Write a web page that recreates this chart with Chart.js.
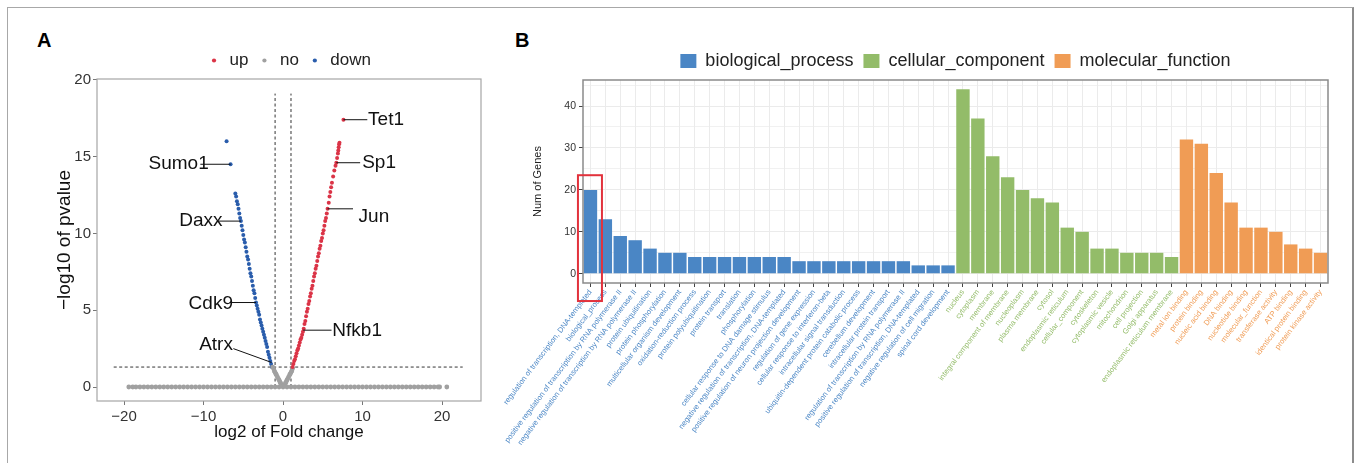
<!DOCTYPE html>
<html>
<head>
<meta charset="utf-8">
<script src="https://cdn.jsdelivr.net/npm/chart.js@4.4.1/dist/chart.umd.min.js"></script>
<style>
  html, body { margin: 0; padding: 0; background: #fff; overflow: hidden; }
  body { width: 1359px; height: 463px; position: relative; font-family: 'Liberation Sans', Arial, sans-serif; }
  #frame { position: absolute; left: 7px; top: 7px; width: 1347px; height: 470px; box-sizing: border-box;
           border: 1px solid #a8a8a8; border-right: 2px solid #8c8c8c; }
  .tag { position: absolute; font-weight: bold; font-size: 20px; color: #000; }
  #volcano { position: absolute; left: 0; top: 0; }
  #goBars { position: absolute; left: 490px; top: 0; }
</style>
</head>
<body>
<div id="frame"></div>
<div class="tag" style="left:37px; top:29px;">A</div>
<div class="tag" style="left:515px; top:29px;">B</div>
<canvas id="volcano" width="495" height="463"></canvas>
<canvas id="goBars" width="869" height="463"></canvas>

<script>
/* ---------- Panel A: volcano plot data ---------- */

const upPoints = [
    [1.2, 1.3], [1.3, 1.5], [1.4, 1.7], [1.5, 1.8], [1.6, 2.0], [1.7, 2.2], [1.8, 2.4], [1.9, 2.5],
    [2.0, 2.7], [2.1, 2.9], [2.2, 3.1], [2.3, 3.2], [2.4, 3.4], [2.5, 3.6], [2.6, 3.8], [2.7, 4.1],
    [2.8, 4.3], [2.9, 4.6], [3.0, 4.9], [3.1, 5.1], [3.2, 5.4], [3.3, 5.6], [3.4, 5.9], [3.5, 6.1],
    [3.6, 6.4], [3.7, 6.6], [3.8, 6.9], [3.9, 7.2], [4.0, 7.4], [4.1, 7.7], [4.2, 7.9], [4.3, 8.2],
    [4.4, 8.5], [4.5, 8.7], [4.6, 9.0], [4.7, 9.2], [4.8, 9.5], [4.9, 9.7], [5.0, 10.0], [5.1, 10.2],
    [5.2, 10.5], [5.3, 10.8], [5.4, 11.0], [5.5, 11.3], [5.6, 11.6], [5.75, 12.0], [5.85, 12.4],
    [5.95, 12.7], [6.05, 13.0], [6.15, 13.3], [6.3, 13.7], [6.45, 14.1], [6.6, 14.4], [6.7, 14.6],
    [6.8, 14.9], [6.9, 15.2], [6.95, 15.4], [7.0, 15.6], [7.05, 15.8], [7.1, 15.9], [7.6, 17.4]
];

const downPoints = [
    [-1.4, 1.3], [-1.5, 1.5], [-1.6, 1.7], [-1.7, 1.9], [-1.8, 2.1], [-1.9, 2.3], [-2.0, 2.6],
    [-2.1, 2.8], [-2.2, 3.0], [-2.3, 3.2], [-2.4, 3.4], [-2.5, 3.6], [-2.6, 3.8], [-2.7, 4.0],
    [-2.8, 4.2], [-2.9, 4.4], [-3.0, 4.7], [-3.1, 4.9], [-3.2, 5.1], [-3.3, 5.3], [-3.4, 5.5],
    [-3.5, 5.8], [-3.6, 6.1], [-3.7, 6.3], [-3.8, 6.6], [-3.9, 6.9], [-4.0, 7.2], [-4.1, 7.4],
    [-4.2, 7.7], [-4.3, 8.0], [-4.4, 8.3], [-4.5, 8.5], [-4.6, 8.8], [-4.7, 9.1], [-4.8, 9.4],
    [-4.9, 9.6], [-5.0, 9.9], [-5.1, 10.2], [-5.2, 10.5], [-5.3, 10.8], [-5.4, 11.0], [-5.5, 11.3],
    [-5.6, 11.6], [-5.7, 11.9], [-5.8, 12.1], [-5.9, 12.4], [-6.0, 12.6], [-6.6, 14.5], [-7.1, 16.0]
];

// not significant genes: the small V round zero and the long band along y = 0
const noPoints = [
    [-1.3, 1.3], [-1.2, 1.2], [-1.1, 1.05], [-1.0, 0.95], [-0.9, 0.85], [-0.8, 0.75], [-0.7, 0.65],
    [-0.6, 0.55], [-0.5, 0.45], [-0.4, 0.35], [-0.3, 0.25], [-0.2, 0.15], [-0.1, 0.07], [0, 0],
    [0.1, 0.07], [0.2, 0.15], [0.3, 0.25], [0.4, 0.35], [0.5, 0.45], [0.6, 0.55], [0.7, 0.65],
    [0.8, 0.75], [0.9, 0.85], [1.0, 0.95], [1.1, 1.05], [1.2, 1.2],
    [-19.4, 0], [-18.9, 0], [-18.5, 0], [-18, 0], [-17.5, 0], [-17, 0], [-16.5, 0], [-16, 0],
    [-15.5, 0], [-15, 0], [-14.5, 0], [-14, 0], [-13.5, 0], [-13, 0], [-12.5, 0], [-12, 0],
    [-11.5, 0], [-11, 0], [-10.5, 0], [-10, 0], [-9.5, 0], [-9, 0], [-8.5, 0], [-8, 0],
    [-7.5, 0], [-7, 0], [-6.5, 0], [-6, 0], [-5.5, 0], [-5, 0], [-4.5, 0], [-4, 0],
    [-3.5, 0], [-3, 0], [-2.5, 0], [-2, 0], [-1.5, 0], [-1, 0], [-0.5, 0], [0.5, 0],
    [1, 0], [1.5, 0], [2, 0], [2.5, 0], [3, 0], [3.5, 0], [4, 0], [4.5, 0],
    [5, 0], [5.5, 0], [6, 0], [6.5, 0], [7, 0], [7.5, 0], [8, 0], [8.5, 0],
    [9, 0], [9.5, 0], [10, 0], [10.5, 0], [11, 0], [11.5, 0], [12, 0], [12.5, 0],
    [13, 0], [13.5, 0], [14, 0], [14.5, 0], [15, 0], [15.5, 0], [16, 0], [16.5, 0],
    [17, 0], [17.5, 0], [18, 0], [18.5, 0], [19, 0], [19.5, 0], [19.7, 0], [20.6, 0]
];

const volcanoXTicks = [-20, -10, 0, 10, 20];
const volcanoYTicks = [0, 5, 10, 15, 20];

// cut-offs: |log2FC| = 1 and p = 0.05
const fcCut = 1;
const pCut = 1.3;

// gene name annotations (data units): point, end of leader line, text anchor
const geneLabels = [
    { gene: 'Tet1',  at: [7.6, 17.4],   lineTo: [10.6, 17.4],  text: [10.7, 17.4],  align: 'left' },
    { gene: 'Sp1',   at: [6.7, 14.6],   lineTo: [9.7, 14.6],   text: [9.95, 14.6],  align: 'left' },
    { gene: 'Jun',   at: [5.6, 11.6],   lineTo: [8.8, 11.6],   text: [9.5, 11.1],   align: 'left' },
    { gene: 'Nfkb1', at: [2.55, 3.7],   lineTo: [6.1, 3.7],    text: [6.2, 3.65],   align: 'left' },
    { gene: 'Sumo1', at: [-6.6, 14.5],  lineTo: [-10.4, 14.5], text: [-9.35, 14.5], align: 'right' },
    { gene: 'Daxx',  at: [-5.3, 10.8],  lineTo: [-8.1, 10.8],  text: [-7.6, 10.8],  align: 'right' },
    { gene: 'Cdk9',  at: [-3.4, 5.5],   lineTo: [-6.7, 5.5],   text: [-6.3, 5.45],  align: 'right' },
    { gene: 'Atrx',  at: [-1.45, 1.6],  lineTo: [-6.25, 2.5],  text: [-6.3, 2.75],  align: 'right' }
];

/* ---------- Panel B: GO term counts ---------- */

const bpTerms = [
    'regulation of transcription, DNA-templated', 'biological_process',
    'positive regulation of transcription by RNA polymerase II',
    'negative regulation of transcription by RNA polymerase II',
    'protein ubiquitination', 'protein phosphorylation', 'multicellular organism development',
    'oxidation-reduction process', 'protein polyubiquitination', 'protein transport', 'translation',
    'phosphorylation', 'cellular response to DNA damage stimulus',
    'negative regulation of transcription, DNA-templated',
    'positive regulation of neuron projection development', 'regulation of gene expression',
    'cellular response to interferon-beta', 'intracellular signal transduction',
    'ubiquitin-dependent protein catabolic process', 'cerebellum development',
    'intracellular protein transport', 'regulation of transcription by RNA polymerase II',
    'positive regulation of transcription, DNA-templated', 'negative regulation of cell migration',
    'spinal cord development'
];
const bpCounts = [20, 13, 9, 8, 6, 5, 5, 4, 4, 4, 4, 4, 4, 4, 3, 3, 3, 3, 3, 3, 3, 3, 2, 2, 2];

const ccTerms = [
    'nucleus', 'cytoplasm', 'membrane', 'integral component of membrane', 'nucleoplasm',
    'plasma membrane', 'cytosol', 'endoplasmic reticulum', 'cellular_component', 'cytoskeleton',
    'cytoplasmic vesicle', 'mitochondrion', 'cell projection', 'Golgi apparatus',
    'endoplasmic reticulum membrane'
];
const ccCounts = [44, 37, 28, 23, 20, 18, 17, 11, 10, 6, 6, 5, 5, 5, 4];

const mfTerms = [
    'metal ion binding', 'protein binding', 'nucleic acid binding', 'DNA binding',
    'nucleotide binding', 'molecular_function', 'transferase activity', 'ATP binding',
    'identical protein binding', 'protein kinase activity'
];
const mfCounts = [32, 31, 24, 17, 11, 11, 10, 7, 6, 5];

const goYTicks = [0, 10, 20, 30, 40];
const goYGrid = [0, 5, 10, 15, 20, 25, 30, 35, 40, 45];

/* ---------- colours ---------- */
const RED = '#db3447', GREY = '#a0a0a0', DKBLUE = '#2a5dac';
const BLUE = '#4a86c5', GREEN = '#93bc69', ORANGE = '#f09c55';

Chart.defaults.font.family = "'Liberation Sans', Arial, sans-serif";
Chart.defaults.color = '#222';

// ggplot style box round the panel
const panelBorder = {
    id: 'panelBorder',
    afterDraw(chart, args, opts) {
        const { ctx, chartArea: a } = chart;
        ctx.save();
        ctx.strokeStyle = opts.color;
        ctx.lineWidth = opts.width;
        ctx.strokeRect(a.left, a.top, a.width, a.height);
        ctx.restore();
    }
};

const geneLabelPlugin = {
    id: 'geneLabels',
    afterDatasetsDraw(chart) {
        const { ctx } = chart;
        const xs = chart.scales.x, ys = chart.scales.y;
        ctx.save();
        ctx.strokeStyle = '#111';
        ctx.lineWidth = 1;
        ctx.fillStyle = '#111';
        ctx.font = "19px 'Liberation Sans', Arial, sans-serif";
        ctx.textBaseline = 'middle';
        geneLabels.forEach(l => {
            ctx.beginPath();
            ctx.moveTo(xs.getPixelForValue(l.at[0]), ys.getPixelForValue(l.at[1]));
            ctx.lineTo(xs.getPixelForValue(l.lineTo[0]), ys.getPixelForValue(l.lineTo[1]));
            ctx.stroke();
            ctx.textAlign = l.align;
            ctx.fillText(l.gene, xs.getPixelForValue(l.text[0]), ys.getPixelForValue(l.text[1]));
        });
        ctx.restore();
    }
};

function toXY(points) {
    return points.map(p => ({ x: p[0], y: p[1] }));
}

function cutLine(points) {
    return {
        type: 'line', label: 'cut', data: toXY(points), showLine: true, fill: false,
        borderColor: '#333', borderWidth: 1, borderDash: [3, 2.5], pointRadius: 0
    };
}

new Chart(document.getElementById('volcano'), {
    type: 'scatter',
    data: {
        datasets: [
            { label: 'up', data: toXY(upPoints), backgroundColor: RED, pointRadius: 2, pointBorderWidth: 0 },
            { label: 'no', data: toXY(noPoints), backgroundColor: GREY, pointRadius: 2.4, pointBorderWidth: 0 },
            { label: 'down', data: toXY(downPoints), backgroundColor: DKBLUE, pointRadius: 2, pointBorderWidth: 0 },
            cutLine([[-fcCut, 0], [-fcCut, 19.1]]),
            cutLine([[fcCut, 0], [fcCut, 19.1]]),
            cutLine([[-21.3, pCut], [22.6, pCut]])
        ]
    },
    options: {
        responsive: false,
        animation: false,
        devicePixelRatio: 1,
        layout: { padding: { left: 45, right: 14, top: 43, bottom: 10 } },
        plugins: {
            legend: {
                position: 'top',
                fullSize: false,
                labels: {
                    filter: item => item.datasetIndex < 3,
                    usePointStyle: true,
                    boxWidth: 14,
                    boxHeight: 3,
                    padding: 9,
                    color: '#222',
                    font: { size: 17 }
                }
            },
            tooltip: { enabled: false },
            panelBorder: { color: '#a6a6a6', width: 1.2 }
        },
        scales: {
            x: {
                type: 'linear',
                min: -23.4,
                max: 24.9,
                afterBuildTicks: s => { s.ticks = volcanoXTicks.map(v => ({ value: v })); },
                afterFit: s => { s.height = 52; },
                grid: { drawOnChartArea: false, tickLength: 4, color: '#777' },
                border: { display: false },
                ticks: { callback: v => String(v).replace('-', '\u2212'), color: '#333', font: { size: 15 }, padding: 3, maxRotation: 0 },
                title: { display: true, text: 'log2 of Fold change', color: '#111', font: { size: 17 }, padding: { top: 0, bottom: 10 } }
            },
            y: {
                min: -0.91,
                max: 20.05,
                afterBuildTicks: s => { s.ticks = volcanoYTicks.map(v => ({ value: v })); },
                afterFit: s => { s.width = 52; },
                grid: { drawOnChartArea: false, tickLength: 4, color: '#777' },
                border: { display: false },
                ticks: { color: '#333', font: { size: 15 }, padding: 2 },
                title: { display: true, text: '\u2212log10 of pvalue', color: '#111', font: { size: 19 }, padding: 8 }
            }
        }
    },
    plugins: [panelBorder, geneLabelPlugin]
});

/* ---------- Panel B ---------- */

const goTerms = bpTerms.concat(ccTerms, mfTerms);
const groupColors = [BLUE, GREEN, ORANGE];
const termGroup = goTerms.map((t, i) =>
    i < bpTerms.length ? 0 : (i < bpTerms.length + ccTerms.length ? 1 : 2));

function placeCounts(counts, offset) {
    const arr = new Array(goTerms.length).fill(null);
    counts.forEach((c, i) => { arr[offset + i] = c; });
    return arr;
}

function goDataset(label, counts, offset, color) {
    return {
        label: label,
        data: placeCounts(counts, offset),
        backgroundColor: color,
        grouped: false,
        barPercentage: 0.9,
        categoryPercentage: 1.0
    };
}

// red box round the first term
const highlightBox = {
    id: 'highlightBox',
    afterDraw(chart, args, o) {
        const { ctx } = chart;
        const xs = chart.scales.x, ys = chart.scales.y;
        const c = xs.getPixelForValue(o.index);
        const top = ys.getPixelForValue(o.top);
        const bottom = ys.getPixelForValue(o.bottom);
        ctx.save();
        ctx.strokeStyle = '#e2323c';
        ctx.lineWidth = 2;
        ctx.strokeRect(c - o.left, top, o.left + o.right, bottom - top);
        ctx.restore();
    }
};

new Chart(document.getElementById('goBars'), {
    type: 'bar',
    data: {
        labels: goTerms,
        datasets: [
            goDataset('biological_process', bpCounts, 0, BLUE),
            goDataset('cellular_component', ccCounts, bpTerms.length, GREEN),
            goDataset('molecular_function', mfCounts, bpTerms.length + ccTerms.length, ORANGE)
        ]
    },
    options: {
        responsive: false,
        animation: false,
        devicePixelRatio: 1,
        layout: { padding: { left: 35, right: 31, top: 42, bottom: 0 } },
        plugins: {
            legend: {
                position: 'top',
                fullSize: false,
                labels: { boxWidth: 16, boxHeight: 14, padding: 10, color: '#222', font: { size: 18 } }
            },
            tooltip: { enabled: false },
            panelBorder: { color: '#8a8a8a', width: 1.5 },
            highlightBox: { index: 0, left: 12.5, right: 11.5, top: 23.5, bottom: -6.5 }
        },
        scales: {
            x: {
                offset: true,
                afterFit: s => { s.height = 180; },
                grid: { offset: false, color: '#ebebeb', tickLength: 4, tickColor: '#444' },
                border: { display: false },
                ticks: {
                    autoSkip: false,
                    minRotation: 53,
                    maxRotation: 53,
                    padding: 1,
                    font: { size: 7.6 },
                    color: ctx => groupColors[termGroup[ctx.index]]
                }
            },
            y: {
                min: -2.2,
                max: 46.2,
                afterBuildTicks: s => { s.ticks = goYGrid.map(v => ({ value: v })); },
                afterFit: s => { s.width = 58; },
                grid: {
                    color: '#ebebeb',
                    lineWidth: ctx => goYTicks.includes(ctx.tick.value) ? 1 : 0.7,
                    tickLength: 4,
                    tickColor: ctx => goYTicks.includes(ctx.tick.value) ? '#444' : 'rgba(0,0,0,0)'
                },
                border: { display: false },
                ticks: {
                    callback: v => goYTicks.includes(v) ? String(v) : '',
                    color: '#333',
                    font: { size: 10.5 },
                    padding: 3
                },
                title: { display: true, text: 'Num of Genes', color: '#222', font: { size: 11 }, padding: 6 }
            }
        }
    },
    plugins: [panelBorder, highlightBox]
});
</script>
</body>
</html>
